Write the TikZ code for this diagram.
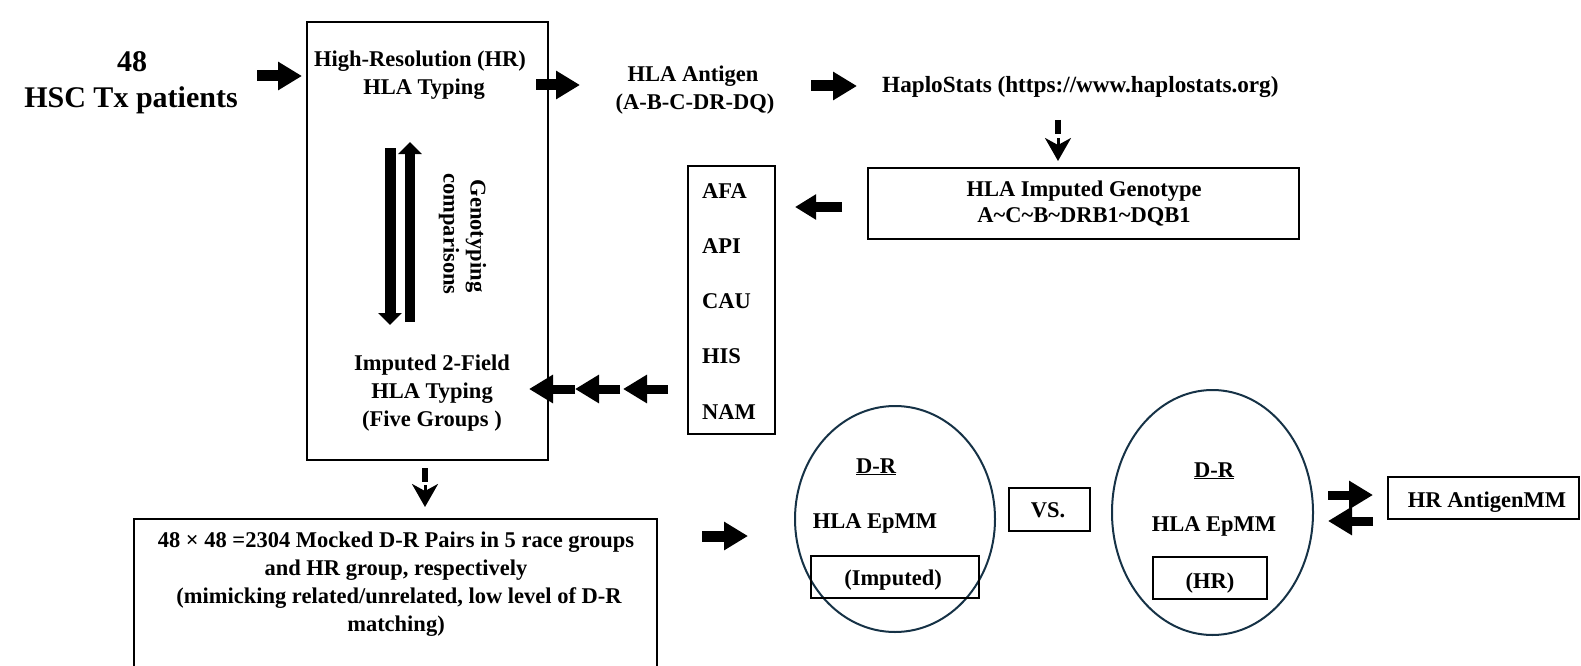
\documentclass[tikz,border=0pt]{standalone}
\usepackage{fontspec}
\setmainfont{Liberation Serif}
\usetikzlibrary{arrows.meta,shapes.geometric}
\definecolor{navy}{RGB}{22,50,70}
\begin{document}
\begin{tikzpicture}[x=1pt,y=-1pt,
  txt/.style={font=\fontsize{22.5}{26}\selectfont\bfseries, inner sep=0pt, anchor=base},
  bigtxt/.style={font=\fontsize{30}{34}\selectfont\bfseries, inner sep=0pt, anchor=base},
  box/.style={draw, line width=1.8pt, inner sep=0pt},
  ell/.style={draw=navy, line width=2pt, ellipse, inner sep=0pt},
  blk/.style={line width=11pt, -{Triangle[length=24pt,width=27pt]}},
  blks/.style={line width=9pt, -{Triangle[length=24pt,width=27pt]}},
  gen/.style={line width=11pt, -{Triangle[length=12pt,width=23pt]}},
  dshaft/.style={line width=6.5pt},
  dhead/.style={line width=3pt, -{Stealth[length=23pt,width=26pt,inset=7pt]}}
]
\useasboundingbox (0,0) rectangle (1581,666);

% patients
\node[bigtxt] (pat1) at (132,72) {48};
\node[bigtxt] (pat2) at (131,108) {HSC Tx patients};

% main box
\node[box, minimum width=241pt, minimum height=438pt] (mainbox) at (427.5,241) {};
\node[txt] (hr1) at (420,67) {High-Resolution (HR)};
\node[txt] (hr2) at (424,95) {HLA Typing};
\node[txt] (im1) at (432,370) {Imputed 2-Field};
\node[txt] (im2) at (432,398) {HLA Typing};
\node[txt] (im3) at (432,426) {(Five Groups )};
\node[txt, anchor=center, rotate=-90] (geno1) at (476,236) {Genotyping};
\node[txt, anchor=center, rotate=-90] (geno2) at (449,234) {comparisons};

% genotyping arrows
\coordinate (gd1) at (390,148); \coordinate (gd2) at (390,325);
\coordinate (gu1) at (410,322); \coordinate (gu2) at (410,142);
\draw[gen] (gd1) -- (gd2);
\draw[gen, line width=10pt] (gu1) -- (gu2);

% arrow patients -> main
\coordinate (a1s) at (257,76); \coordinate (a1e) at (302,76);
\draw[blk] (a1s) -- (a1e);

% HLA antigen
\node[txt] (ag1) at (693,82) {HLA Antigen};
\node[txt] (ag2) at (695,110) {(A-B-C-DR-DQ)};
\coordinate (a2s) at (536,85); \coordinate (a2e) at (580,85);
\draw[blk] (a2s) -- (a2e);

% HaploStats
\node[txt, font=\fontsize{23.2}{26}\selectfont\bfseries, anchor=base west] (hs) at (882,93) {HaploStats (https://www.haplostats.org)};
\coordinate (a3s) at (811,86); \coordinate (a3e) at (857,86);
\draw[blk] (a3s) -- (a3e);

% dashed down arrow 1
\coordinate (d1a) at (1058,120); \coordinate (d1b) at (1058,134);
\coordinate (d1c) at (1058,138); \coordinate (d1d) at (1058,161);
\draw[dshaft] (d1a) -- (d1b);
\draw[dhead] (d1c) -- (d1d);

% imputed genotype box
\node[box, minimum width=431pt, minimum height=71pt] (igbox) at (1083.5,203.5) {};
\node[txt] (ig1) at (1084,196) {HLA Imputed Genotype};
\node[txt] (ig2) at (1084,222) {A\textasciitilde C\textasciitilde B\textasciitilde DRB1\textasciitilde DQB1};
\coordinate (a4s) at (842,207); \coordinate (a4e) at (795,207);
\draw[blk, line width=10pt, -{Triangle[length=21pt,width=24pt]}] (a4s) -- (a4e);

% race box
\node[box, minimum width=87pt, minimum height=268pt] (racebox) at (731.5,300) {};
\node[txt, anchor=base west] (afa) at (702,198) {AFA};
\node[txt, anchor=base west] (api) at (702,253) {API};
\node[txt, anchor=base west] (cau) at (702,308) {CAU};
\node[txt, anchor=base west] (his) at (702,363) {HIS};
\node[txt, anchor=base west] (nam) at (702,419) {NAM};

% triple arrows
\coordinate (t1s) at (575,389); \coordinate (t1e) at (529,389);
\coordinate (t2s) at (620,389); \coordinate (t2e) at (575,389);
\coordinate (t3s) at (668,389); \coordinate (t3e) at (623,389);
\draw[blks] (t1s) -- (t1e);
\draw[blks] (t2s) -- (t2e);
\draw[blks] (t3s) -- (t3e);

% dashed down arrow 2
\coordinate (d2a) at (425,468); \coordinate (d2b) at (425,482);
\coordinate (d2c) at (425,485); \coordinate (d2d) at (425,507);
\draw[dshaft] (d2a) -- (d2b);
\draw[dhead] (d2c) -- (d2d);

% bottom box
\node[box, minimum width=523pt, minimum height=171pt] (pairbox) at (395.5,604.5) {};
\node[txt] (p1) at (396,547) {48 × 48 =2304 Mocked D-R Pairs in 5 race groups};
\node[txt] (p2) at (396,575) {and HR group, respectively};
\node[txt] (p3) at (399,603) {(mimicking related/unrelated, low level of D-R};
\node[txt] (p4) at (396,631) {matching)};
\coordinate (a5s) at (702,536); \coordinate (a5e) at (748,536);
\draw[blk] (a5s) -- (a5e);

% ellipse 1
\node[ell, minimum width=200pt, minimum height=226pt] (e1) at (895,519) {};
\node[txt] (e1dr) at (876,473) {\underline{D-R}};
\node[txt] (e1ep) at (875,528) {HLA EpMM};
\node[box, minimum width=168pt, minimum height=42pt] (e1box) at (895,577) {};
\node[txt] (e1im) at (893,585) {(Imputed)};

% vs
\node[box, minimum width=81pt, minimum height=43pt] (vsbox) at (1049.5,509.5) {};
\node[txt] (vs) at (1048,517) {VS.};

% ellipse 2
\node[ell, minimum width=201pt, minimum height=245pt] (e2) at (1212.5,512.5) {};
\node[txt] (e2dr) at (1214,477) {\underline{D-R}};
\node[txt] (e2ep) at (1214,531) {HLA EpMM};
\node[box, minimum width=114pt, minimum height=42pt] (e2box) at (1210,578) {};
\node[txt] (e2hr) at (1210,588) {(HR)};

% double arrows
\coordinate (b1s) at (1328,495); \coordinate (b1e) at (1373,495);
\coordinate (b2s) at (1373,521); \coordinate (b2e) at (1328,521);
\draw[blks] (b1s) -- (b1e);
\draw[blks] (b2s) -- (b2e);

% HR AntigenMM
\node[box, minimum width=191pt, minimum height=42pt] (hrbox) at (1483.5,498) {};
\node[txt] (hrt) at (1487,507) {HR AntigenMM};
\end{tikzpicture}
\end{document}
